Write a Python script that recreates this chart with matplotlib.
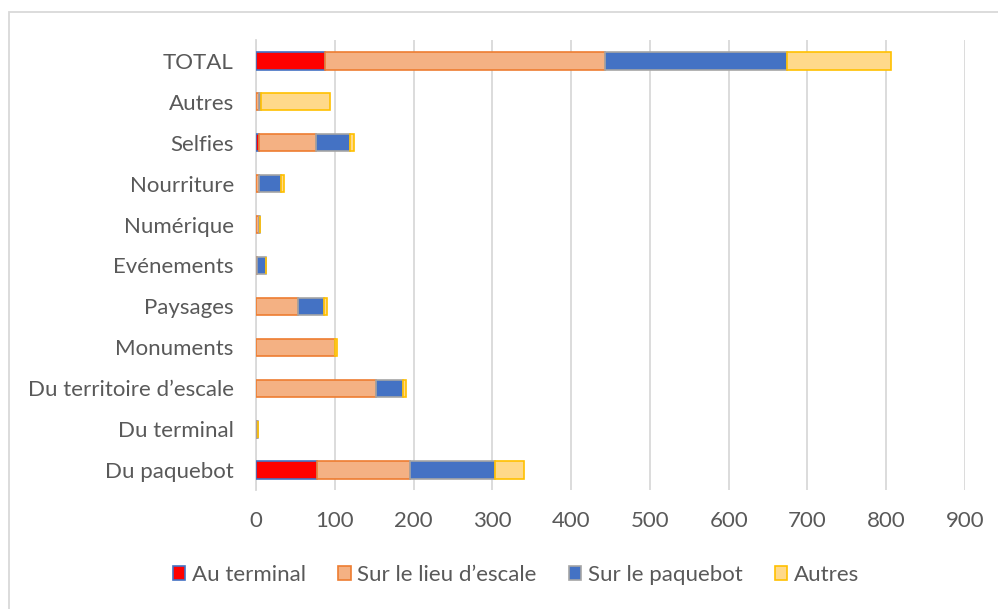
import numpy as np
import matplotlib.pyplot as plt
from matplotlib.patches import Patch, Rectangle

plt.rcParams['font.family'] = ['Lato', 'DejaVu Sans']

categories = ['Du paquebot', 'Du terminal', 'Du territoire d\u2019escale', 'Monuments',
              'Paysages', 'Evénements', 'Numérique', 'Nourriture', 'Selfies',
              'Autres', 'TOTAL']

au_terminal = [78, 0, 0, 0, 0, 0, 0, 0, 4, 0, 87]
lieu_escale = [118, 1, 152, 100, 53, 1, 4, 4, 72, 4, 356]
paquebot = [107, 2, 34, 0, 33, 12, 1, 28, 43, 2, 231]
autres = [37, 0, 4, 3, 4, 0, 0, 3, 6, 88, 132]

series = ['Au terminal', 'Sur le lieu d\u2019escale', 'Sur le paquebot', 'Autres']
fills = ['#FF0000', '#F4B183', '#4472C4', '#FFD98A']
edges = ['#4472C4', '#ED7D31', '#A5A5A5', '#FFC000']

fig = plt.figure(figsize=(9.98, 6.09), dpi=100)
ax = fig.add_axes([0.2565, 0.1946, 0.967 - 0.2565, 0.9335 - 0.1946])

# outer chart frame
fig.patches.append(Rectangle((9 / 998, -0.05), 1.1, 1 - 12 / 609 + 0.05,
                             transform=fig.transFigure, fill=False,
                             edgecolor='#D9D9D9', linewidth=1.3))

y = np.arange(len(categories))
left = np.zeros(len(categories))
for vals, name, fc, ec in zip([au_terminal, lieu_escale, paquebot, autres], series, fills, edges):
    vals = np.array(vals, dtype=float)
    ax.barh(y, vals, left=left, height=0.42, color=fc, edgecolor=ec,
            linewidth=1.2, label=name, zorder=3)
    left += vals

ax.set_xlim(0, 900)
ax.set_ylim(-0.5, len(categories) - 0.5)
ax.set_xticks(range(0, 901, 100))
ax.set_yticks(y)
ax.set_yticklabels(categories)
ax.grid(axis='x', color='#D9D9D9', linewidth=1.3, zorder=0)
ax.set_axisbelow(True)
for s in ['top', 'right', 'bottom']:
    ax.spines[s].set_visible(False)
ax.spines['left'].set_color('#D9D9D9')
ax.spines['left'].set_linewidth(1.3)
ax.tick_params(axis='both', length=0, labelsize=16, colors='#595959')
ax.tick_params(axis='x', pad=15)
ax.tick_params(axis='y', pad=16)

handles = [Patch(facecolor=fc, edgecolor=ec, linewidth=1.2) for fc, ec in zip(fills, edges)]
fig.legend(handles, series, loc='center', bbox_to_anchor=(0.517, 1 - 575 / 609),
           ncol=4, frameon=False, fontsize=16, labelcolor='#595959',
           handlelength=0.55, handleheight=0.55, handletextpad=0.3, columnspacing=1.45)

fig.savefig('out.png', dpi=100)
